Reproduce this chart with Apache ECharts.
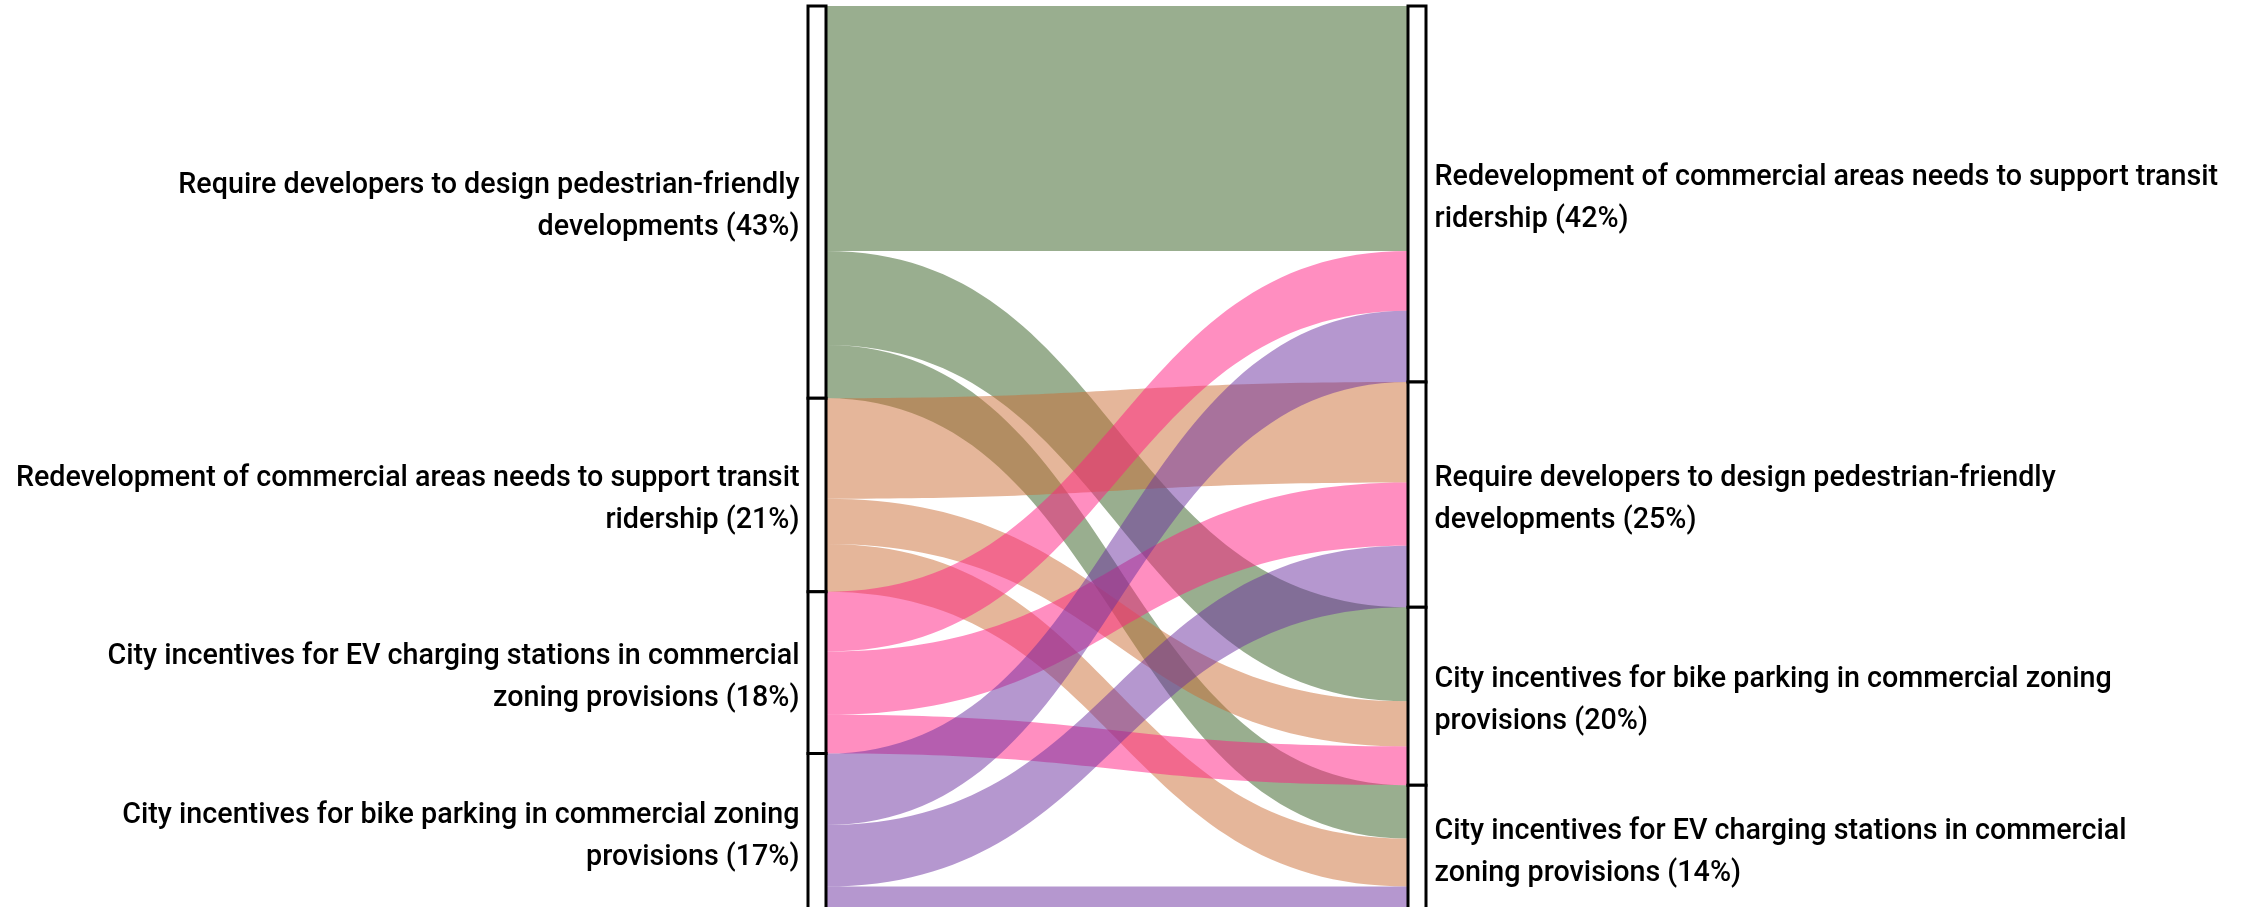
<!DOCTYPE html>
<html>
<head>
<meta charset="utf-8">
<title>Commercial zoning policy priorities</title>
<script src="https://cdn.jsdelivr.net/npm/echarts@6/dist/echarts.min.js"></script>
<style>
  html, body { margin: 0; padding: 0; background: #ffffff; }
  #chart { width: 2249px; height: 907px; }
</style>
</head>
<body>
<div id="chart"></div>
<script>
// Policy statements (line break marks where the label wraps)
const policies = [
  'Require developers to design pedestrian-friendly\ndevelopments',
  'Redevelopment of commercial areas needs to support transit\nridership',
  'City incentives for EV charging stations in commercial\nzoning provisions',
  'City incentives for bike parking in commercial zoning\nprovisions'
];

// Column order, top to bottom (indices into policies)
const leftOrder = [0, 1, 2, 3];
const rightOrder = [1, 0, 3, 2];

// Flows: left policy -> right policy, share of respondents (%)
const flowSource = [0, 0, 0, 1, 1, 1, 2, 2, 2, 3, 3, 3];
const flowTarget = [1, 3, 2, 0, 3, 2, 1, 0, 3, 1, 0, 2];
const flowShare  = [27.1, 10.4, 5.9, 11.1, 5.0, 5.3, 6.6, 7.0, 4.3, 7.9, 6.8, 2.6];

// Band colour for each left-hand policy
const policyColors = ['#335d1f', '#cb6d35', '#ff1d81', '#6b2f9f'];

const total = flowShare.reduce((a, b) => a + b, 0);

const labelText = (idx, value) =>
  policies[idx] + ' (' + Math.round(value / total * 100) + '%)';

const nodes = [];
leftOrder.forEach(i => nodes.push({
  name: 'L' + i,
  label: {
    position: 'left',
    align: 'right',
    formatter: p => labelText(i, p.value)
  }
}));
rightOrder.forEach(i => nodes.push({
  name: 'R' + i,
  label: {
    position: 'right',
    align: 'left',
    formatter: p => labelText(i, p.value)
  }
}));

const links = flowShare.map((v, k) => ({
  source: 'L' + flowSource[k],
  target: 'R' + flowTarget[k],
  value: v,
  lineStyle: { color: policyColors[flowSource[k]] }
}));

const chart = echarts.init(document.getElementById('chart'), null, { renderer: 'canvas' });
chart.setOption({
  animation: false,
  tooltip: { show: false },
  series: [{
    type: 'sankey',
    left: 808,
    right: 823,
    top: 6,
    bottom: -3,
    nodeWidth: 18,
    nodeGap: 0,
    layoutIterations: 0,
    draggable: false,
    emphasis: { disabled: true },
    data: nodes,
    links: links,
    itemStyle: {
      color: '#ffffff',
      borderColor: '#000000',
      borderWidth: 3
    },
    lineStyle: {
      opacity: 0.5,
      curveness: 0.5
    },
    label: {
      show: true,
      distance: 7,
      offset: [0, 5],
      color: '#000000',
      fontFamily: 'Roboto',
      fontWeight: 500,
      fontSize: 28.7,
      lineHeight: 42
    }
  }]
});
</script>
</body>
</html>
